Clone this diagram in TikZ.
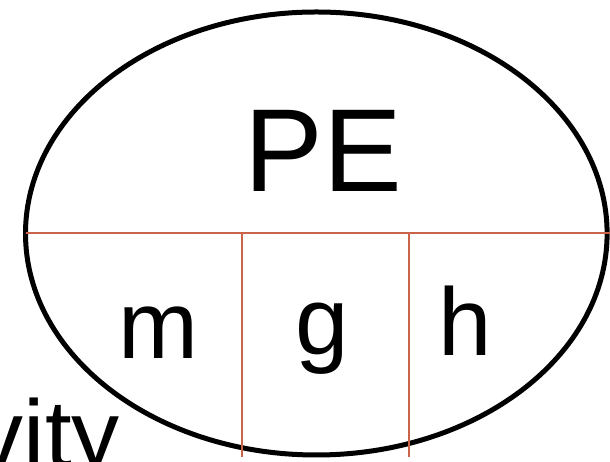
\documentclass[tikz,border=0pt]{standalone}
\usepackage{fontspec}
\setmainfont{Liberation Sans}
\definecolor{divline}{RGB}{200,100,72}
\begin{document}
\begin{tikzpicture}[x=1pt,y=1pt,
  big/.style={inner sep=0pt,font=\fontsize{118}{120}\selectfont},
  letter/.style={inner sep=0pt,font=\fontsize{96}{100}\selectfont},
  divider/.style={draw=divline,line width=1.5pt}]
\useasboundingbox (0,0) rectangle (610,462);
\draw[line width=5pt] (316.3,228.5) ellipse [x radius=290.8, y radius=221.5];
\coordinate (hl) at (25.5,229);
\coordinate (hr) at (612,229);
\coordinate (v1t) at (242,229);
\coordinate (v1b) at (242,5);
\coordinate (v2t) at (409,229);
\coordinate (v2b) at (409,5);
\draw[divider] (hl) -- (hr);
\draw[divider] (v1t) -- (v1b);
\draw[divider] (v2t) -- (v2b);
\node[big,anchor=base] (pe) at (323,270) {PE};
\node[letter,anchor=base] (m) at (158,103) {m};
\node[letter,anchor=base] (g) at (322.5,107) {g};
\node[letter,anchor=base] (h) at (465,106) {h};
\node[letter,anchor=base east] (vity) at (120,-6) {vity};
\end{tikzpicture}
\end{document}
